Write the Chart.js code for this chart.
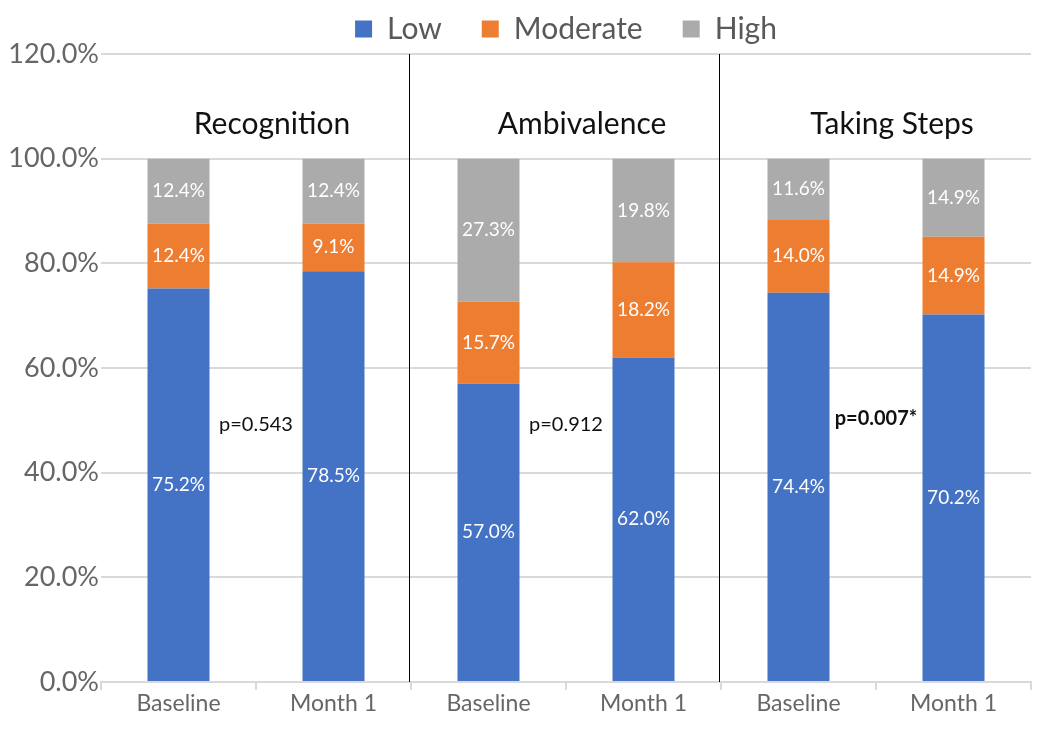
<!DOCTYPE html>
<html>
<head>
<meta charset="utf-8">
<script src="https://cdn.jsdelivr.net/npm/chart.js@4"></script>
<style>
  html, body { margin: 0; padding: 0; background: #fff; }
  #wrap { width: 1050px; height: 734px; }
</style>
</head>
<body>
<div id="wrap"><canvas id="stack"></canvas></div>
<script>
const categories = ['Baseline', 'Month 1', 'Baseline', 'Month 1', 'Baseline', 'Month 1'];
const lowValues = [75.2, 78.5, 57.0, 62.0, 74.4, 70.2];
const moderateValues = [12.4, 9.1, 15.7, 18.2, 14.0, 14.9];
const highValues = [12.4, 12.4, 27.3, 19.8, 11.6, 14.9];
const groupTitles = ['Recognition', 'Ambivalence', 'Taking Steps'];
const pValues = ['p=0.543', 'p=0.912', 'p=0.007*'];
const yTicks = [0, 20, 40, 60, 80, 100, 120];

const FONT = 'Lato, "Open Sans", sans-serif';

// white % labels in the middle of each segment
const segmentLabels = {
    id: 'segmentLabels',
    afterDatasetsDraw(chart) {
        const ctx = chart.ctx;
        ctx.save();
        ctx.fillStyle = '#ffffff';
        ctx.font = '19px ' + FONT;
        ctx.textAlign = 'center';
        ctx.textBaseline = 'middle';
        chart.data.datasets.forEach((ds, i) => {
            const meta = chart.getDatasetMeta(i);
            meta.data.forEach((bar, j) => {
                const mid = (bar.y + bar.base) / 2;
                ctx.fillText(ds.data[j].toFixed(1) + '%', bar.x, mid);
            });
        });
        ctx.restore();
    }
};

// group separators, group titles and p-values
const groupNotes = {
    id: 'groupNotes',
    afterDraw(chart) {
        const ctx = chart.ctx;
        const x = chart.scales.x;
        const y = chart.scales.y;
        const area = chart.chartArea;
        ctx.save();

        ctx.strokeStyle = '#000000';
        ctx.lineWidth = 1;
        [1, 3].forEach(i => {
            const px = Math.round((x.getPixelForValue(i) + x.getPixelForValue(i + 1)) / 2) - 1.5;
            ctx.beginPath();
            ctx.moveTo(px, area.top);
            ctx.lineTo(px, area.bottom);
            ctx.stroke();
        });

        ctx.textAlign = 'center';
        ctx.textBaseline = 'middle';
        ctx.fillStyle = '#111111';
        groupTitles.forEach((t, g) => {
            const mid = (x.getPixelForValue(g * 2) + x.getPixelForValue(g * 2 + 1)) / 2;
            ctx.font = '30px ' + FONT;
            ctx.fillText(t, mid + 16, y.getPixelForValue(106.5));
        });
        pValues.forEach((t, g) => {
            const mid = (x.getPixelForValue(g * 2) + x.getPixelForValue(g * 2 + 1)) / 2;
            const bold = t.indexOf('*') >= 0;
            ctx.font = (bold ? 'bold ' : '') + '20px ' + FONT;
            ctx.fillText(t, mid, y.getPixelForValue(bold ? 50.3 : 49.1));
        });
        ctx.restore();
    }
};

new Chart(document.getElementById('stack'), {
    type: 'bar',
    data: {
        labels: categories,
        datasets: [
            { label: 'Low', data: lowValues, backgroundColor: '#4472C4' },
            { label: 'Moderate', data: moderateValues, backgroundColor: '#ED7D31' },
            { label: 'High', data: highValues, backgroundColor: '#ABABAB' }
        ]
    },
    options: {
        responsive: true,
        maintainAspectRatio: false,
        animation: false,
        datasets: { bar: { categoryPercentage: 1, barPercentage: 0.4 } },
        layout: { padding: { left: 0, right: 19, top: -26, bottom: 0 } },
        scales: {
            x: {
                stacked: true,
                grid: { drawOnChartArea: false, color: '#D9D9D9', lineWidth: 2, tickLength: 8 },
                border: { color: '#D9D9D9', width: 2 },
                ticks: { color: '#666666', font: { family: FONT, size: 23 }, padding: 0 },
                afterFit(scale) { scale.height = 52; }
            },
            y: {
                stacked: true,
                min: 0,
                max: 120,
                afterBuildTicks(scale) { scale.ticks = yTicks.map(v => ({ value: v })); },
                grid: { color: '#D9D9D9', lineWidth: 2, drawTicks: false },
                border: { display: false },
                ticks: {
                    color: '#666666',
                    font: { family: FONT, size: 27 },
                    padding: 2,
                    callback: v => v.toFixed(1) + '%'
                },
                afterFit(scale) { scale.width = 101; }
            }
        },
        plugins: {
            legend: {
                position: 'top',
                fullSize: false,
                labels: {
                    boxWidth: 17,
                    boxHeight: 17,
                    padding: 40,
                    color: '#595959',
                    font: { family: FONT, size: 30 }
                }
            },
            tooltip: { enabled: false }
        }
    },
    plugins: [segmentLabels, groupNotes]
});
</script>
</body>
</html>
